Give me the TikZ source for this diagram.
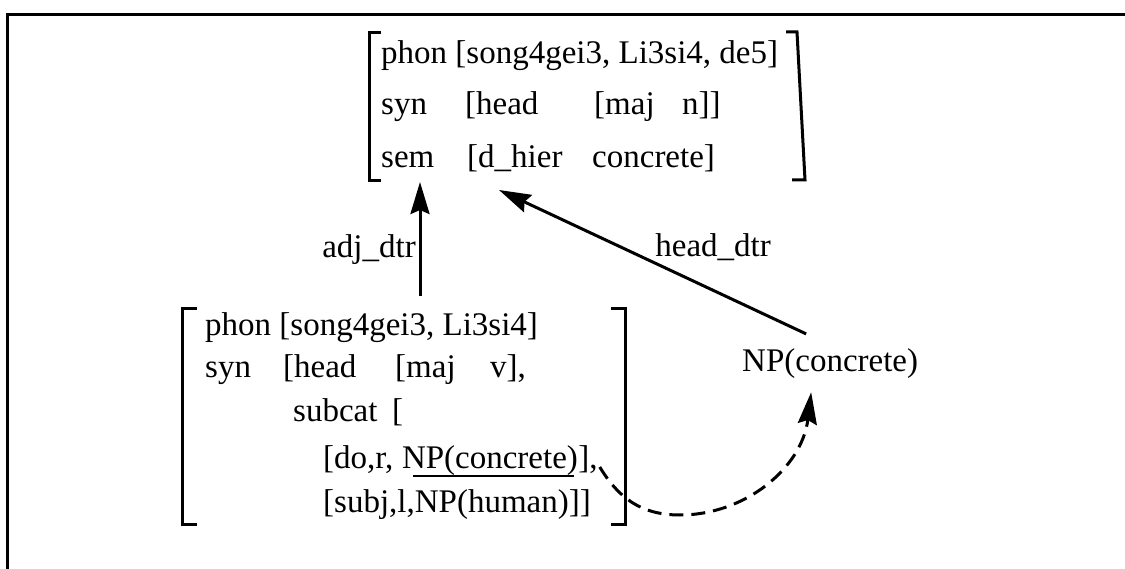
\documentclass[tikz,border=0pt]{standalone}
\usepackage{fontspec}
\setmainfont{Liberation Serif}
\usetikzlibrary{arrows.meta}
\begin{document}
\begin{tikzpicture}[x=1bp,y=-1bp,
  font=\fontsize{33bp}{40bp}\selectfont,
  txt/.style={anchor=base west, inner sep=0pt},
  lbl/.style={anchor=base east, inner sep=0pt},
  frame/.style={line width=3bp},
  brk/.style={line width=3bp},
  conn/.style={line width=3bp, -{Stealth[length=32bp,width=19bp,inset=4bp]}},
  dconn/.style={conn, dash pattern=on 14bp off 8bp},
]
\useasboundingbox (0,0) rectangle (1125,569);

% page frame
\draw[frame] (7,569) -- (7,15) -- (1125,15);

% ---- mother sign ----
\node[txt] (m1) at (381,64) {phon [song4gei3, Li3si4, de5]};
\node[txt] (m2a) at (381,115) {syn};
\node[txt] (m2b) at (465,115) {[head};
\node[txt] (m2c) at (594,115) {[maj};
\node[txt] (m2d) at (682,115) {n]]};
\node[txt] (m3a) at (381,168) {sem};
\node[txt] (m3b) at (467,168) {[d\_hier};
\node[txt] (m3c) at (592,168) {concrete]};
\draw[brk] (381,33) -- (369,33) -- (369,181) -- (381,181);
\draw[brk] (786,32) -- (797,32) -- (805,180) -- (792,180);

% ---- adjunct daughter ----
\node[txt] (a1) at (205,336) {phon [song4gei3, Li3si4]};
\node[txt] (a2a) at (205,377) {syn};
\node[txt] (a2b) at (283,377) {[head};
\node[txt] (a2c) at (395,377) {[maj};
\node[txt] (a2d) at (490,377) {v],};
\node[txt] (a3a) at (293,421) {subcat};
\node[txt] (a3b) at (392,421) {[};
\node[txt] (a4a) at (323,468) {[do,r,};
\node[txt] (a4b) at ([xshift=8.25bp]a4a.base east) {NP(concrete)};
\node[txt] (a4c) at (a4b.base east) {],};
\node[txt] (a5) at (323,512) {[subj,l,NP(human)]]};
\draw[brk] (197,308) -- (182,308) -- (182,524) -- (197,524);
\draw[brk] (611,308) -- (625,308) -- (625,524) -- (611,524);
\draw[line width=2.5bp] ([xshift=11bp,yshift=-8bp]a4b.base west) -- ([xshift=-4bp,yshift=-8bp]a4b.base east);

% ---- head daughter ----
\node[txt, inner xsep=0pt, inner ysep=14bp] (np) at (742,371) {NP(concrete)};

% ---- connectors ----
\coordinate (adjfoot) at (420,296);
\coordinate (adjtip) at (420,182);
\coordinate (headtip) at (499,190);
\draw[conn] (adjfoot) -- (adjtip);
\node[lbl] (adjlbl) at (416,258) {adj\_dtr};
\draw[conn] ([xshift=-24bp]np.north) -- (headtip);
\node[lbl] (headlbl) at (771,257) {head\_dtr};
\draw[dconn] ([xshift=2bp,yshift=1bp]a4c.base east)
  .. controls (618,497) and (640,515) .. (680,515)
  .. controls (745,515) and (802,468) .. ([xshift=-19bp]np.south);
\end{tikzpicture}
\end{document}
